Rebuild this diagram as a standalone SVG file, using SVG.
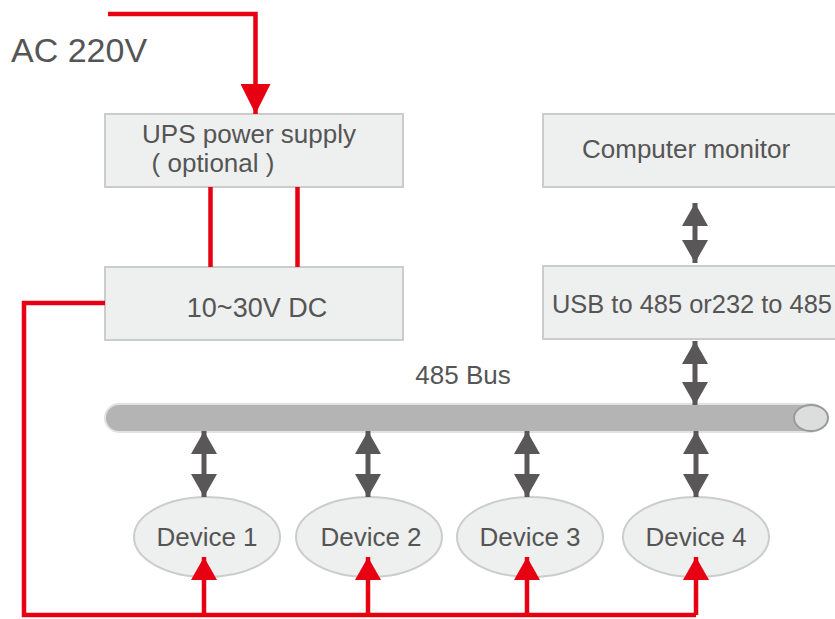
<svg xmlns="http://www.w3.org/2000/svg" width="835" height="619" viewBox="0 0 835 619">
<defs>
<style>
.box{fill:#eeefef;stroke:#cccccc;stroke-width:2}
.ell{fill:#eeefef;stroke:#cccccc;stroke-width:2}
.t{font-family:"Liberation Sans",Arial,sans-serif;fill:#555555;text-anchor:middle}
.red{stroke:#e60012;stroke-width:4.5;fill:none}
.gray{stroke:#595757;stroke-width:5;fill:none}
</style>
<marker id="ra" markerUnits="userSpaceOnUse" markerWidth="30" markerHeight="30" refX="30" refY="15" orient="auto-start-reverse" viewBox="0 0 30 30">
<path d="M0,0 L30,15 L0,30 Z" fill="#e60012"/>
</marker>
<marker id="rs" markerUnits="userSpaceOnUse" markerWidth="23" markerHeight="26" refX="23" refY="13" orient="auto-start-reverse" viewBox="0 0 23 26">
<path d="M0,0 L23,13 L0,26 Z" fill="#e60012"/>
</marker>
<marker id="ga" markerUnits="userSpaceOnUse" markerWidth="23" markerHeight="26" refX="23" refY="13" orient="auto-start-reverse" viewBox="0 0 23 26">
<path d="M0,0 L23,13 L0,26 Z" fill="#595757"/>
</marker>
</defs>
<rect width="835" height="619" fill="#ffffff"/>

<text class="t" x="11" y="62" style="text-anchor:start;font-size:34px">AC 220V</text>

<g id="ups">
<rect class="box" x="105" y="114" width="298" height="73"/>
<text class="t" x="249" y="143" font-size="26">UPS power supply</text>
<text class="t" x="213" y="172" font-size="26">( optional )</text>
</g>
<g id="dc">
<rect class="box" x="105" y="267" width="298" height="73"/>
<text class="t" x="257" y="317" font-size="27">10~30V DC</text>
</g>
<g id="monitor">
<rect class="box" x="543" y="114" width="300" height="73"/>
<text class="t" x="582" y="158" font-size="26" style="text-anchor:start">Computer monitor</text>
</g>
<g id="usb">
<rect class="box" x="543" y="266" width="300" height="73"/>
<text class="t" x="552" y="313" font-size="26" style="text-anchor:start" textLength="280" lengthAdjust="spacingAndGlyphs">USB to 485 or232 to 485</text>
</g>
<g id="bus">
<rect x="105" y="404" width="720" height="28" rx="14" fill="#b4b4b4" stroke="#e2e2e2" stroke-width="2"/>
<ellipse cx="811" cy="418" rx="17" ry="13" fill="#dcdddd" stroke="#9a9a9a" stroke-width="2"/>
<text class="t" x="463" y="384" font-size="26">485 Bus</text>
</g>
<g id="device1"><ellipse class="ell" cx="207" cy="537" rx="73" ry="40"/><text class="t" x="207" y="546" font-size="26">Device 1</text></g>
<g id="device2"><ellipse class="ell" cx="369" cy="537" rx="73" ry="40"/><text class="t" x="371" y="546" font-size="26">Device 2</text></g>
<g id="device3"><ellipse class="ell" cx="530" cy="537" rx="73" ry="40"/><text class="t" x="530" y="546" font-size="26">Device 3</text></g>
<g id="device4"><ellipse class="ell" cx="696" cy="537" rx="73" ry="40"/><text class="t" x="696" y="546" font-size="26">Device 4</text></g>

<g id="connectors">
<polyline class="red" points="108,14 255.5,14 255.5,114" marker-end="url(#ra)"/>
<line class="red" x1="210.5" y1="187" x2="210.5" y2="267"/>
<line class="red" x1="297.5" y1="187" x2="297.5" y2="267"/>
<polyline class="red" points="105,303 24,303 24,615 696,615"/>
<line class="red" x1="204" y1="615" x2="204" y2="557" marker-end="url(#rs)"/>
<line class="red" x1="368" y1="615" x2="368" y2="557" marker-end="url(#rs)"/>
<line class="red" x1="527" y1="615" x2="527" y2="557" marker-end="url(#rs)"/>
<line class="red" x1="696" y1="615" x2="696" y2="557" marker-end="url(#rs)"/>
<line class="gray" x1="695" y1="203" x2="695" y2="263" marker-start="url(#ga)" marker-end="url(#ga)"/>
<line class="gray" x1="695" y1="341" x2="695" y2="405" marker-start="url(#ga)" marker-end="url(#ga)"/>
<line class="gray" x1="204" y1="431" x2="204" y2="497" marker-start="url(#ga)" marker-end="url(#ga)"/>
<line class="gray" x1="368" y1="431" x2="368" y2="497" marker-start="url(#ga)" marker-end="url(#ga)"/>
<line class="gray" x1="527" y1="431" x2="527" y2="497" marker-start="url(#ga)" marker-end="url(#ga)"/>
<line class="gray" x1="696" y1="431" x2="696" y2="497" marker-start="url(#ga)" marker-end="url(#ga)"/>
</g>
</svg>
